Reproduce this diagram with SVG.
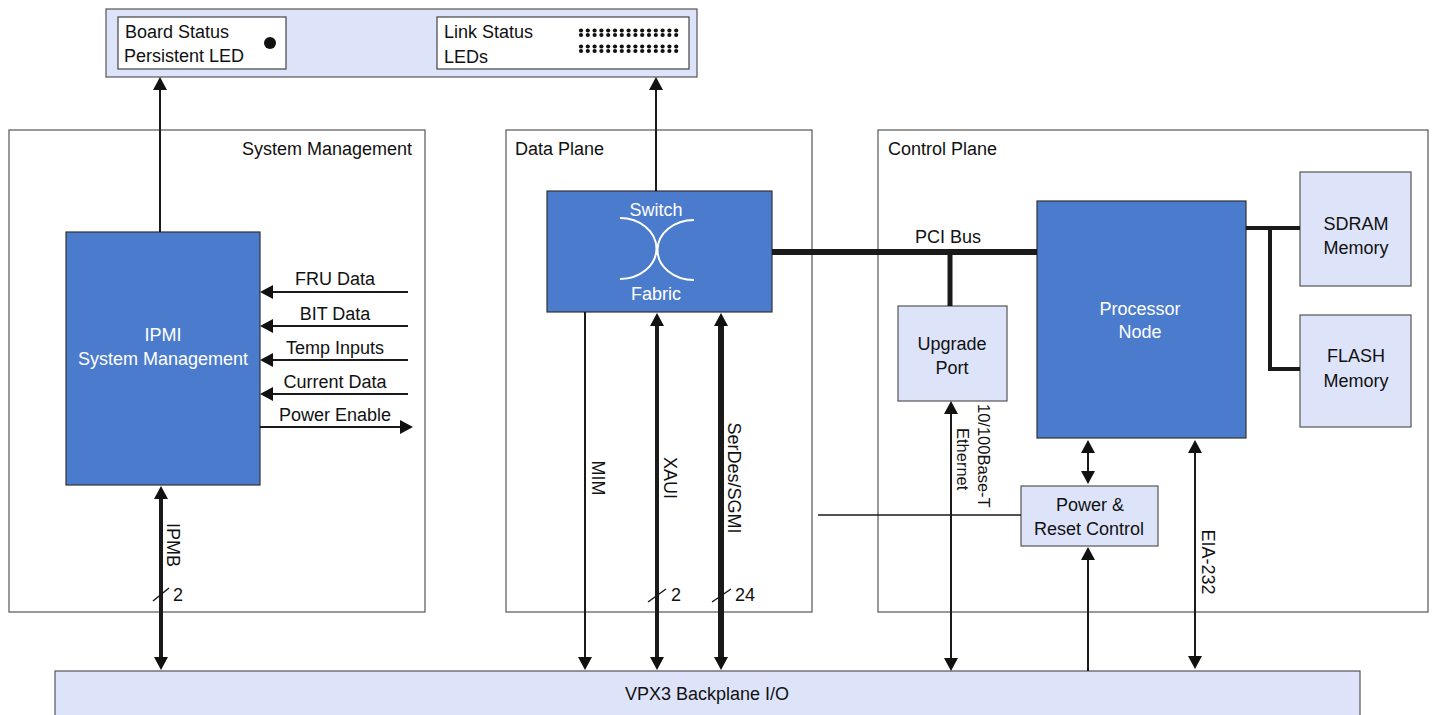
<svg xmlns="http://www.w3.org/2000/svg" width="1432" height="715" viewBox="0 0 1432 715">
<style>
text{font-family:"Liberation Sans",Arial,sans-serif;font-size:18px;fill:#111}
.w{fill:#fff}
.m{text-anchor:middle}
.cont{fill:#fff;stroke:#555;stroke-width:1.2}
.blue{fill:#4b7bcc;stroke:#333;stroke-width:1.2}
.lite{fill:#dde4fa;stroke:#555;stroke-width:1.2}
.inner{fill:#fff;stroke:#444;stroke-width:1.2}
.ln{stroke:#1a1a1a;fill:none}
.t1{stroke-width:2}
.t2{stroke-width:4}
.t3{stroke-width:6}
.ah{marker-end:url(#ar)}
.ab{marker-start:url(#ar);marker-end:url(#ar)}
</style>
<defs>
<marker id="ar" viewBox="0 0 13 14" refX="3" refY="7" markerWidth="13" markerHeight="14" markerUnits="userSpaceOnUse" orient="auto-start-reverse">
<path d="M0,0 L13,7 L0,14 z" fill="#111"/>
</marker>
<g id="dotrow" fill="#111">
<circle cx="581" cy="0" r="2.1"/><circle cx="587.8" cy="0" r="2.1"/><circle cx="594.6" cy="0" r="2.1"/><circle cx="601.4" cy="0" r="2.1"/><circle cx="608.2" cy="0" r="2.1"/><circle cx="615" cy="0" r="2.1"/><circle cx="621.8" cy="0" r="2.1"/><circle cx="628.6" cy="0" r="2.1"/><circle cx="635.4" cy="0" r="2.1"/><circle cx="642.2" cy="0" r="2.1"/><circle cx="649" cy="0" r="2.1"/><circle cx="655.8" cy="0" r="2.1"/><circle cx="662.6" cy="0" r="2.1"/><circle cx="669.4" cy="0" r="2.1"/><circle cx="676.2" cy="0" r="2.1"/>
</g>
</defs>
<rect width="1432" height="715" fill="#fff"/>

<g id="front-panel">
<rect x="106" y="9" width="591" height="68" class="lite"/>
<g id="board-status-led">
<rect x="118" y="17" width="168" height="52" class="inner"/>
<text x="125" y="38">Board Status</text>
<text x="124" y="62">Persistent LED</text>
<circle cx="270" cy="43" r="6" fill="#111"/>
</g>
<g id="link-status-leds">
<rect x="437" y="17" width="252" height="52" class="inner"/>
<text x="444" y="38">Link Status</text>
<text x="444" y="63">LEDs</text>
<use href="#dotrow" y="30.5"/>
<use href="#dotrow" y="35"/>
<use href="#dotrow" y="46.5"/>
<use href="#dotrow" y="51"/>
</g>
</g>

<g id="system-management">
<rect x="9" y="130" width="416" height="482" class="cont"/>
<text x="412" y="155" text-anchor="end">System Management</text>
</g>
<g id="data-plane">
<rect x="506" y="130" width="306" height="482" class="cont"/>
<text x="515" y="155">Data Plane</text>
</g>
<g id="control-plane">
<rect x="878" y="130" width="550" height="482" class="cont"/>
<text x="888" y="155">Control Plane</text>
</g>

<g id="backplane">
<rect x="55" y="671" width="1305" height="60" class="lite"/>
<text x="707" y="700" class="m">VPX3 Backplane I/O</text>
</g>

<g id="ipmi">
<rect x="66" y="232" width="194" height="253" class="blue"/>
<text x="163" y="341" class="m w">IPMI</text>
<text x="163" y="365" class="m w">System Management</text>
</g>

<g id="switch-fabric">
<rect x="547" y="191" width="225" height="121" class="blue"/>
<text x="656" y="216" class="m w">Switch</text>
<text x="656" y="300" class="m w">Fabric</text>
<path d="M620,218 A36.5,30.5 0 0 1 620,279 M694,220 A36.5,30 0 0 0 694,280" fill="none" stroke="#fff" stroke-width="2"/>
</g>

<g id="upgrade-port">
<rect x="898" y="306" width="109" height="95" class="lite"/>
<text x="952" y="350" class="m">Upgrade</text>
<text x="952" y="374" class="m">Port</text>
</g>

<g id="processor-node">
<rect x="1037" y="201" width="209" height="237" class="blue"/>
<text x="1140" y="315" class="m w">Processor</text>
<text x="1140" y="338" class="m w">Node</text>
</g>

<g id="sdram">
<rect x="1300" y="172" width="111" height="114" class="lite"/>
<text x="1356" y="230" class="m">SDRAM</text>
<text x="1356" y="254" class="m">Memory</text>
</g>
<g id="flash">
<rect x="1300" y="315" width="111" height="112" class="lite"/>
<text x="1356" y="362" class="m">FLASH</text>
<text x="1356" y="387" class="m">Memory</text>
</g>

<g id="power-reset">
<rect x="1021" y="486" width="137" height="60" class="lite"/>
<text x="1090" y="511" class="m">Power &amp;</text>
<text x="1089" y="535" class="m">Reset Control</text>
</g>

<g id="connectors">
<path class="ln t1 ah" d="M160,232 L160,87"/>
<path class="ln t1 ah" d="M656,191 L656,87"/>
<path class="ln t1 ah" d="M408,292 L270,292"/>
<path class="ln t1 ah" d="M408,326 L270,326"/>
<path class="ln t1 ah" d="M408,360 L270,360"/>
<path class="ln t1 ah" d="M408,394 L270,394"/>
<path class="ln t1 ah" d="M260,427 L403,427"/>
<path class="ln t2 ab" d="M161,496 L161,660"/>
<path class="ln t1 ah" d="M585,312 L585,660"/>
<path class="ln t2 ab" d="M657,323 L657,660"/>
<path class="ln t3 ab" d="M721,323 L721,660"/>
<path class="ln t3" d="M772,252 L1037,252"/>
<path class="ln" stroke-width="5" d="M950,252 L950,306"/>
<path class="ln t2" d="M1246,228 L1300,228 M1270,228 L1270,369 L1300,369"/>
<path class="ln t1 ab" d="M951,411 L951,661"/>
<path class="ln t1 ab" d="M1088,450 L1088,474"/>
<path class="ln t1 ah" d="M1088,671 L1088,557"/>
<path class="ln t1 ab" d="M1195,450 L1195,659"/>
<path class="ln" stroke-width="1.5" d="M818,515 L1021,515"/>
<path class="ln" stroke-width="1.5" d="M153,601 L169,588 M648,602 L666,589 M712,602 L731,589"/>
<text x="173" y="601">2</text>
<text x="671" y="601">2</text>
<text x="735" y="601">24</text>
<text x="335" y="285" class="m">FRU Data</text>
<text x="335" y="320" class="m">BIT Data</text>
<text x="335" y="354" class="m">Temp Inputs</text>
<text x="335" y="388" class="m">Current Data</text>
<text x="335" y="421" class="m">Power Enable</text>
<text x="948" y="243" class="m">PCI Bus</text>
<text class="m" transform="translate(167,545) rotate(90)">IPMB</text>
<text class="m" transform="translate(592,478) rotate(90)">MIM</text>
<text class="m" transform="translate(664,478) rotate(90)">XAUI</text>
<text class="m" transform="translate(728,478) rotate(90)">SerDes/SGMI</text>
<text transform="translate(978,404) rotate(90)" style="font-size:16.5px">10/100Base-T</text>
<text transform="translate(957,428) rotate(90)" style="font-size:16.5px">Ethernet</text>
<text class="m" transform="translate(1202,562) rotate(90)">EIA-232</text>
</g>
</svg>
